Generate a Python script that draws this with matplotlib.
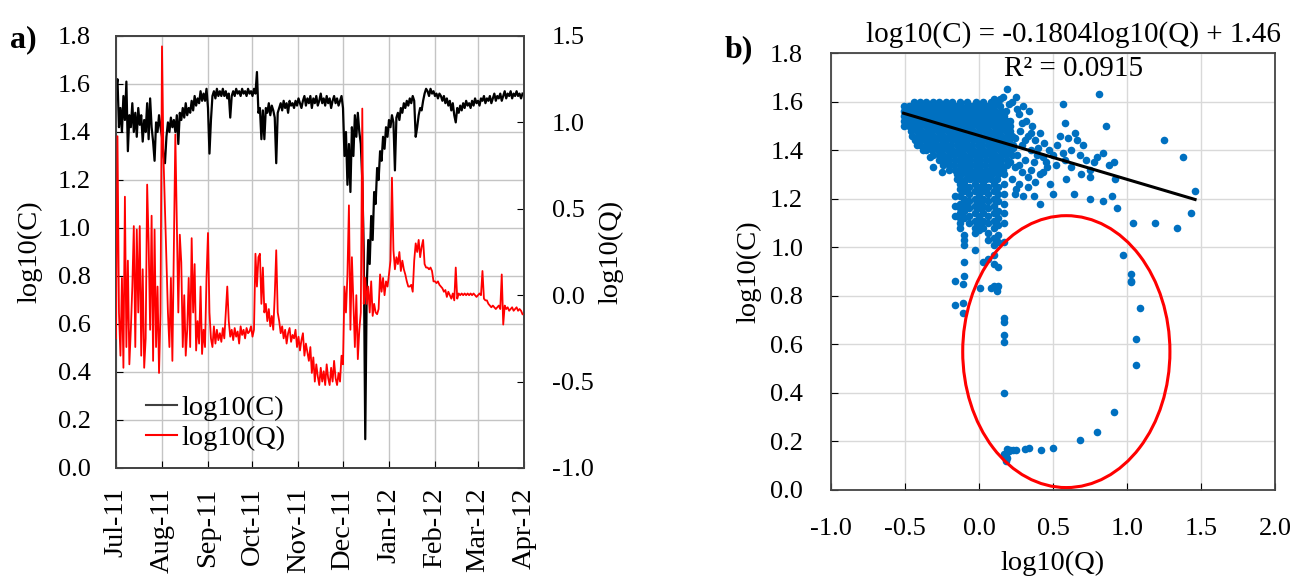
import numpy as np
import pandas as pd
import matplotlib
matplotlib.use('Agg')
import matplotlib.pyplot as plt
import matplotlib.dates as mdates
from matplotlib.patches import Ellipse
from matplotlib.lines import Line2D

plt.rcParams['font.family'] = ['Liberation Serif', 'DejaVu Serif']
plt.rcParams['axes.unicode_minus'] = False

# ---------------- data: panel a (daily, from 2011-07-01) ----------------
start_date = '2011-07-01'
log_c = [
    1.58, 1.62, 1.42, 1.50, 1.40, 1.55, 1.45, 1.61, 1.32, 1.47,
    1.42, 1.52, 1.40, 1.48, 1.38, 1.50, 1.43, 1.47, 1.36, 1.45,
    1.40, 1.52, 1.37, 1.54, 1.42, 1.36, 1.28, 1.44, 1.40, 1.47,
    1.42, 1.38, 1.30, 1.27, 1.38, 1.44, 1.40, 1.46, 1.42, 1.45,
    1.40, 1.47, 1.35, 1.48, 1.45, 1.50, 1.46, 1.52, 1.47, 1.50,
    1.48, 1.53, 1.49, 1.55, 1.51, 1.54, 1.52, 1.57, 1.53, 1.56,
    1.53, 1.58, 1.50, 1.31, 1.45, 1.55, 1.57, 1.54, 1.58, 1.55,
    1.57, 1.55, 1.58, 1.55, 1.57, 1.54, 1.56, 1.46, 1.55, 1.57,
    1.55, 1.58, 1.56, 1.57, 1.55, 1.58, 1.56, 1.57, 1.55, 1.58,
    1.56, 1.57, 1.55, 1.58, 1.56, 1.65, 1.48, 1.50, 1.37, 1.49,
    1.37, 1.50, 1.48, 1.52, 1.47, 1.51, 1.49, 1.46, 1.27, 1.48,
    1.50, 1.52, 1.49, 1.53, 1.50, 1.52, 1.48, 1.53, 1.51, 1.52,
    1.50, 1.53, 1.51, 1.54, 1.52, 1.50, 1.53, 1.55, 1.51, 1.54,
    1.52, 1.55, 1.50, 1.54, 1.52, 1.55, 1.51, 1.53, 1.56, 1.52,
    1.54, 1.51, 1.55, 1.52, 1.54, 1.50, 1.53, 1.55, 1.52, 1.54,
    1.51, 1.53, 1.55, 1.50, 1.30, 1.40, 1.18, 1.35, 1.15, 1.42,
    1.30, 1.47, 1.38, 1.48, 1.40, 1.35, 1.20, 0.90, 0.12, 0.75,
    0.95, 0.85, 1.05, 0.95, 1.15, 1.10, 1.25, 1.20, 1.32, 1.28,
    1.38, 1.33, 1.42, 1.38, 1.45, 1.42, 1.47, 1.44, 1.24, 1.46,
    1.48, 1.45, 1.50, 1.48, 1.52, 1.50, 1.53, 1.51, 1.54, 1.52,
    1.55, 1.53, 1.38, 1.42, 1.47, 1.50, 1.49, 1.53, 1.56, 1.58,
    1.57, 1.55, 1.58, 1.56, 1.57, 1.55, 1.56, 1.54, 1.56, 1.55,
    1.53, 1.55, 1.52, 1.54, 1.51, 1.53, 1.49, 1.52, 1.47, 1.44,
    1.50, 1.48, 1.51, 1.49, 1.52, 1.50, 1.53, 1.51, 1.52, 1.50,
    1.53, 1.51, 1.54, 1.52, 1.53, 1.51, 1.54, 1.53, 1.55, 1.52,
    1.54, 1.53, 1.55, 1.52, 1.54, 1.56, 1.53, 1.55, 1.54, 1.56,
    1.53, 1.55, 1.57, 1.54, 1.56, 1.55, 1.57, 1.54, 1.56, 1.55,
    1.57, 1.55, 1.56, 1.54, 1.56,
]
log_q = [
    -0.25, 0.92, -0.10, -0.35, 0.10, -0.42, 0.57, -0.30, 0.20, -0.40,
    -0.20, 0.05, 0.40, -0.30, 0.38, -0.10, 0.40, -0.35, 0.15, -0.42,
    -0.25, 0.64, 0.30, -0.20, 0.46, -0.38, 0.38, -0.30, 0.05, -0.45,
    -0.10, 1.44, 0.80, 0.49, 0.20, -0.10, -0.30, 0.10, -0.38, 0.30,
    0.93, 0.40, -0.10, 0.35, 0.19, -0.30, 0.00, -0.35, -0.20, 0.10,
    -0.30, 0.33, -0.10, 0.18, -0.32, -0.15, -0.28, 0.05, -0.34, -0.20,
    -0.30, 0.10, 0.36, -0.10, -0.25, -0.30, -0.18, -0.28, -0.20, -0.26,
    -0.22, -0.27, -0.19, -0.25, -0.10, 0.05, -0.15, -0.24, -0.20, -0.26,
    -0.19, -0.24, -0.21, -0.28, -0.18, -0.23, -0.20, -0.25, -0.19, -0.22,
    -0.21, -0.18, -0.24, -0.20, 0.24, 0.05, 0.22, 0.24, -0.05, 0.16,
    -0.10, -0.05, -0.15, -0.08, -0.18, -0.12, -0.20, 0.00, 0.26, -0.10,
    -0.15, -0.22, -0.18, -0.25, -0.20, -0.28, -0.22, -0.19, -0.27, -0.23,
    -0.25, -0.20, -0.30, -0.24, -0.32, -0.26, -0.22, -0.35, -0.28, -0.33,
    -0.38, -0.30, -0.45, -0.36, -0.50, -0.40, -0.47, -0.52, -0.42, -0.50,
    -0.44, -0.52, -0.40, -0.48, -0.52, -0.42, -0.50, -0.38, -0.48, -0.52,
    -0.45, -0.50, -0.35, -0.40, 0.05, -0.10, 0.12, 0.52, -0.20, 0.22,
    -0.05, -0.30, 0.00, -0.37, -0.20, -0.10, 1.08, -0.05, 0.10, -0.05,
    0.05, -0.10, 0.08, -0.12, -0.05, -0.10, -0.11, -0.08, 0.12, 0.02,
    0.10, 0.00, 0.08, 0.05, 0.12, 0.20, 0.68, 0.26, 0.15, 0.22,
    0.18, 0.25, 0.14, 0.20, 0.15, 0.12, 0.08, 0.05, 0.05, 0.06,
    0.02, 0.20, 0.30, 0.25, 0.32, 0.22, 0.28, 0.32, 0.18, 0.16,
    0.16, 0.15, 0.16, 0.14, 0.08, 0.08, 0.07, 0.08, 0.06, 0.05,
    0.04, 0.02, 0.03, -0.01, 0.02, 0.00, -0.02, 0.01, -0.03, 0.16,
    -0.02, 0.01, 0.00, 0.01, 0.00, 0.01, 0.00, 0.01, 0.00, 0.01,
    0.00, 0.01, 0.00, -0.01, 0.00, 0.01, 0.00, 0.14, -0.02, -0.03,
    -0.03, -0.05, -0.06, -0.07, -0.06, -0.07, -0.08, -0.07, -0.06, -0.08,
    0.12, -0.17, -0.06, -0.08, -0.07, -0.09, -0.08, -0.07, -0.09, -0.08,
    -0.07, -0.09, -0.08, -0.09, -0.11,
]

# ---------------- data: panel b scatter ----------------
# dense cluster, row by row (log10(C) level, log10(Q) values)
blob_c_levels = [1.60, 1.58, 1.56, 1.54, 1.52, 1.50, 1.48, 1.46, 1.44,
                 1.42, 1.40, 1.38, 1.36, 1.34, 1.32, 1.30, 1.28]
blob_q_rows = [
    [-0.44, -0.40, -0.36, -0.31, -0.27, -0.22, -0.18, -0.13, -0.08, -0.02, 0.03, 0.08, 0.12],
    [-0.47, -0.43, -0.40, -0.36, -0.33, -0.29, -0.26, -0.22, -0.19, -0.15, -0.12, -0.08, -0.05, -0.01, 0.03, 0.06, 0.10, 0.14],
    [-0.48, -0.45, -0.41, -0.38, -0.34, -0.31, -0.27, -0.24, -0.20, -0.17, -0.13, -0.10, -0.06, -0.03, 0.01, 0.04, 0.08, 0.11, 0.15, 0.18],
    [-0.47, -0.43, -0.40, -0.36, -0.33, -0.29, -0.26, -0.22, -0.19, -0.15, -0.12, -0.08, -0.05, -0.01, 0.03, 0.06, 0.10, 0.13, 0.17],
    [-0.48, -0.45, -0.41, -0.38, -0.34, -0.31, -0.27, -0.24, -0.20, -0.17, -0.13, -0.10, -0.06, -0.03, 0.01, 0.04, 0.08, 0.11, 0.15, 0.19],
    [-0.47, -0.43, -0.40, -0.36, -0.33, -0.29, -0.26, -0.22, -0.19, -0.15, -0.12, -0.08, -0.05, -0.01, 0.03, 0.06, 0.10, 0.13, 0.17, 0.21],
    [-0.46, -0.42, -0.39, -0.35, -0.32, -0.28, -0.25, -0.21, -0.18, -0.14, -0.11, -0.07, -0.04, 0.00, 0.04, 0.07, 0.11, 0.14, 0.18, 0.21],
    [-0.45, -0.41, -0.38, -0.34, -0.31, -0.27, -0.24, -0.20, -0.17, -0.13, -0.10, -0.06, -0.03, 0.01, 0.05, 0.08, 0.12, 0.15, 0.19, 0.22],
    [-0.43, -0.39, -0.36, -0.32, -0.29, -0.25, -0.22, -0.18, -0.15, -0.11, -0.08, -0.04, -0.01, 0.03, 0.06, 0.10, 0.13, 0.17, 0.20],
    [-0.40, -0.36, -0.33, -0.29, -0.26, -0.22, -0.19, -0.15, -0.12, -0.08, -0.05, -0.01, 0.02, 0.06, 0.09, 0.13, 0.16, 0.20, 0.23],
    [-0.36, -0.32, -0.28, -0.25, -0.21, -0.18, -0.14, -0.11, -0.07, -0.04, 0.00, 0.03, 0.07, 0.10, 0.14, 0.17, 0.21],
    [-0.31, -0.27, -0.24, -0.20, -0.17, -0.13, -0.10, -0.06, -0.03, 0.01, 0.04, 0.08, 0.11, 0.15, 0.18, 0.22],
    [-0.27, -0.23, -0.20, -0.16, -0.13, -0.09, -0.06, -0.02, 0.01, 0.05, 0.08, 0.12, 0.15, 0.19],
    [-0.24, -0.20, -0.17, -0.13, -0.10, -0.06, -0.03, 0.01, 0.04, 0.08, 0.11, 0.15, 0.19],
    [-0.20, -0.16, -0.13, -0.09, -0.06, -0.02, 0.01, 0.05, 0.08, 0.12, 0.16],
    [-0.15, -0.12, -0.08, -0.05, -0.01, 0.02, 0.06, 0.09, 0.13, 0.17],
    [-0.13, -0.09, -0.06, -0.02, 0.01, 0.05, 0.08, 0.12],
]
# vertical streaks of points under the cluster (log10(Q) position, log10(C) values)
streak_q = [-0.51, -0.13, -0.10, -0.07, -0.03, 0.00, 0.03, 0.06, 0.10, 0.13, 0.17]
streak_c_cols = [
    [1.58, 1.56, 1.54, 1.52, 1.50],
    [1.26, 1.24, 1.21, 1.18, 1.16, 1.14, 1.12, 1.10, 1.08],
    [1.26, 1.23, 1.20, 1.18, 1.15, 1.12, 1.05, 1.03, 1.01, 0.94, 0.88],
    [1.25, 1.22, 1.19, 1.16, 1.13, 1.10],
    [1.26, 1.23, 1.20, 1.17, 1.14, 1.11, 1.08, 1.06, 0.99],
    [1.25, 1.22, 1.19, 1.16, 1.13, 1.10, 1.07],
    [1.26, 1.23, 1.20, 1.17, 1.14, 1.11, 1.08, 0.94],
    [1.25, 1.22, 1.19, 1.16, 1.13, 1.10, 1.06, 1.03, 0.95],
    [1.26, 1.23, 1.20, 1.17, 1.14, 1.11, 1.08, 1.04, 1.01, 0.97, 0.93, 0.84],
    [1.25, 1.22, 1.19, 1.15, 1.12, 1.09, 1.05, 1.02, 0.92, 0.84],
    [1.26, 1.22, 1.18, 1.14, 1.10, 1.02],
]
# scattered points right of the cluster
spread_q = [0.22, 0.25, 0.19, 0.30, 0.34, 0.27, 0.32, 0.36, 0.28, 0.24, 0.33, 0.38, 0.41, 0.29,
            0.35, 0.40, 0.44, 0.47, 0.26, 0.31, 0.37, 0.43, 0.50, 0.53, 0.57, 0.24, 0.29, 0.35,
            0.41, 0.46, 0.52, 0.58, 0.62, 0.66, 0.60, 0.55, 0.22, 0.27, 0.33, 0.38, 0.43, 0.48,
            0.24, 0.30, 0.37, 0.41, 0.50, 0.59, 0.64, 0.57, 0.58, 0.81, 0.86, 0.70, 0.72, 0.75,
            0.75, 0.75, 0.80, 0.84, 0.84, 0.90, 0.91, 0.92, 0.93, 0.65, 0.68, 0.78, 0.88, 0.62,
            0.69, 1.25, 1.38, 1.46, 1.43, 1.04, 1.19, 1.34, 0.97, 1.03, 1.03, 0.16, 0.14, 0.10,
            0.20, -0.16, -0.16, -0.16, -0.15, -0.42, -0.38, -0.33, -0.25, -0.31,
            0.26, 0.21, 0.29, 0.23, 0.35, 0.31, 0.39, 0.45, 0.27, 0.33, 0.21, 0.25]
spread_c = [1.60, 1.62, 1.65, 1.58, 1.56, 1.55, 1.52, 1.50, 1.48, 1.45, 1.46, 1.44, 1.47, 1.42,
            1.40, 1.41, 1.43, 1.40, 1.38, 1.36, 1.35, 1.37, 1.38, 1.42, 1.39, 1.33, 1.31, 1.32,
            1.30, 1.33, 1.34, 1.36, 1.40, 1.44, 1.45, 1.46, 1.28, 1.26, 1.25, 1.27, 1.31, 1.26,
            1.22, 1.21, 1.21, 1.18, 1.22, 1.28, 1.22, 1.59, 1.51, 1.63, 1.50, 1.42, 1.36, 1.32,
            1.29, 1.20, 1.37, 1.39, 1.19, 1.21, 1.35, 1.28, 1.16, 1.47, 1.38, 1.35, 1.34, 1.33,
            1.30, 1.44, 1.37, 1.23, 1.14, 1.10, 1.10, 1.08, 0.97, 0.89, 0.86, 1.62, 1.61, 1.61,
            1.59, 1.21, 1.17, 1.13, 1.28, 1.42, 1.40, 1.37, 1.31, 1.33,
            1.57, 1.52, 1.51, 1.41, 1.47, 1.44, 1.38, 1.35, 1.34, 1.29, 1.35, 1.24]
# low-concentration points (inside the red ellipse and just left of it)
low_q = [-0.16, -0.11, -0.16, -0.11, -0.11, 0.01, 0.08, 0.12, 0.12,
         0.17, 0.17, 0.17, 0.17, 0.17, 0.17, 0.18, 0.19, 0.18, 0.20, 0.21,
         0.23, 0.25, 0.19, 0.31, 0.34, 0.42, 0.50, 0.68, 0.80, 0.91, 1.06,
         1.06, 1.09, 1.03]
low_c = [0.86, 0.85, 0.76, 0.77, 0.73, 0.83, 0.83, 0.83, 0.82,
         0.71, 0.69, 0.64, 0.61, 0.40, 0.15, 0.14, 0.13, 0.12, 0.16, 0.165,
         0.165, 0.165, 0.17, 0.167, 0.174, 0.165, 0.174, 0.206, 0.237, 0.323, 0.515,
         0.624, 0.749, 0.857]

# trendline reported on the chart
trend_slope = -0.1804
trend_intercept = 1.46
r_squared = 0.0915

# highlight ellipse (centre, width, height in data units)
ellipse_center = (0.59, 0.57)
ellipse_w, ellipse_h = 1.40, 1.12

# ---------------- figure ----------------
FS_TICK = 19
FS_LAB = 20.5
SPINE = '#444444'
fig = plt.figure(figsize=(13.07, 5.80), dpi=100)

# ---- panel a ----
axA = fig.add_axes([116 / 1307, 1 - 468 / 580, 408 / 1307, 432 / 580])
dates = pd.date_range(start_date, periods=len(log_c), freq='D')
axA.plot(dates, log_c, color='black', lw=1.6, zorder=3)
axA.set_ylim(0, 1.8)
axA.set_yticks(np.round(np.arange(0, 1.81, 0.2), 1))
axA.yaxis.set_major_formatter(matplotlib.ticker.FormatStrFormatter('%.1f'))
axA.set_xlim(pd.Timestamp('2011-07-01'), pd.Timestamp('2012-04-01'))
axA.xaxis.set_major_locator(mdates.MonthLocator())
axA.xaxis.set_major_formatter(mdates.DateFormatter('%b-%y'))
axA.grid(True, color='#c4c4c4', lw=1.0)
axA.set_axisbelow(True)
axA.tick_params(axis='y', direction='in', length=5, labelsize=FS_TICK, pad=18)
axA.tick_params(axis='x', direction='in', length=5, labelsize=FS_LAB, pad=14)
for lab in axA.get_xticklabels():
    lab.set_rotation(90)
axA.set_ylabel('log10(C)', fontsize=FS_LAB, labelpad=11)

axQ = axA.twinx()
axQ.plot(dates, log_q, color='#ff0000', lw=1.3, zorder=3)
axQ.set_ylim(-1.0, 1.5)
axQ.set_yticks([-1.0, -0.5, 0.0, 0.5, 1.0, 1.5])
axQ.yaxis.set_major_formatter(matplotlib.ticker.FormatStrFormatter('%.1f'))
axQ.tick_params(direction='in', length=5, labelsize=FS_TICK, pad=20)
axQ.set_ylabel('log10(Q)', fontsize=FS_LAB, labelpad=3)
for ax in (axA, axQ):
    for s in ax.spines.values():
        s.set_color(SPINE)
        s.set_linewidth(1.3)

axQ.legend(handles=[Line2D([], [], color='#404040', lw=1.5),
                    Line2D([], [], color='#ff0000', lw=1.5)],
           labels=['log10(C)', 'log10(Q)'], loc='lower left',
           bbox_to_anchor=(0.045, 0.012), frameon=False, fontsize=FS_LAB,
           handlelength=1.1, handletextpad=0.15, labelspacing=0.15,
           borderaxespad=0.0)

fig.text(10 / 1307, 1 - 40 / 580, 'a)', fontsize=23, fontweight='bold', va='center')

# ---- panel b ----
axB = fig.add_axes([831 / 1307, 1 - 490 / 580, 444 / 1307, 437 / 580])
bq, bc = [], []
for lev, row in zip(blob_c_levels, blob_q_rows):
    bq.extend(row)
    bc.extend([lev] * len(row))
sq, sc = [], []
for qv, col in zip(streak_q, streak_c_cols):
    sq.extend([qv] * len(col))
    sc.extend(col)
all_q = bq + sq + spread_q + low_q
all_c = bc + sc + spread_c + low_c
axB.scatter(all_q, all_c, s=30, color='#0070c0', linewidths=0, zorder=3)

xq = np.array([min(all_q), max(all_q)])
axB.plot(xq, trend_slope * xq + trend_intercept, color='black', lw=2.2, zorder=4)
axB.add_patch(Ellipse(ellipse_center, ellipse_w, ellipse_h, fill=False,
                      edgecolor='#ff0000', lw=2.2, zorder=5))

axB.set_xlim(-1.0, 2.0)
axB.set_ylim(0, 1.8)
axB.set_xticks([-1.0, -0.5, 0.0, 0.5, 1.0, 1.5, 2.0])
axB.set_yticks(np.round(np.arange(0, 1.81, 0.2), 1))
axB.xaxis.set_major_formatter(matplotlib.ticker.FormatStrFormatter('%.1f'))
axB.yaxis.set_major_formatter(matplotlib.ticker.FormatStrFormatter('%.1f'))
axB.grid(True, color='#d9d9d9', lw=1.0)
axB.set_axisbelow(True)
axB.tick_params(axis='y', direction='in', length=5, labelsize=FS_TICK, pad=20)
axB.tick_params(axis='x', direction='in', length=5, labelsize=FS_TICK, pad=20)
for s in axB.spines.values():
    s.set_color(SPINE)
    s.set_linewidth(1.3)
axB.set_xlabel('log10(Q)', fontsize=FS_LAB, labelpad=8)
axB.set_ylabel('log10(C)', fontsize=FS_LAB, labelpad=6)

axB.text(0.64, 1.875, f'log10(C) = {trend_slope:.4f}log10(Q) + {trend_intercept:.2f}',
         ha='center', va='center', fontsize=21)
axB.text(0.64, 1.735, f'R² = {r_squared:.4f}', ha='center', va='center', fontsize=21)

fig.text(725 / 1307, 1 - 50 / 580, 'b)', fontsize=23, fontweight='bold', va='center')

fig.savefig('out.png', dpi=100)
